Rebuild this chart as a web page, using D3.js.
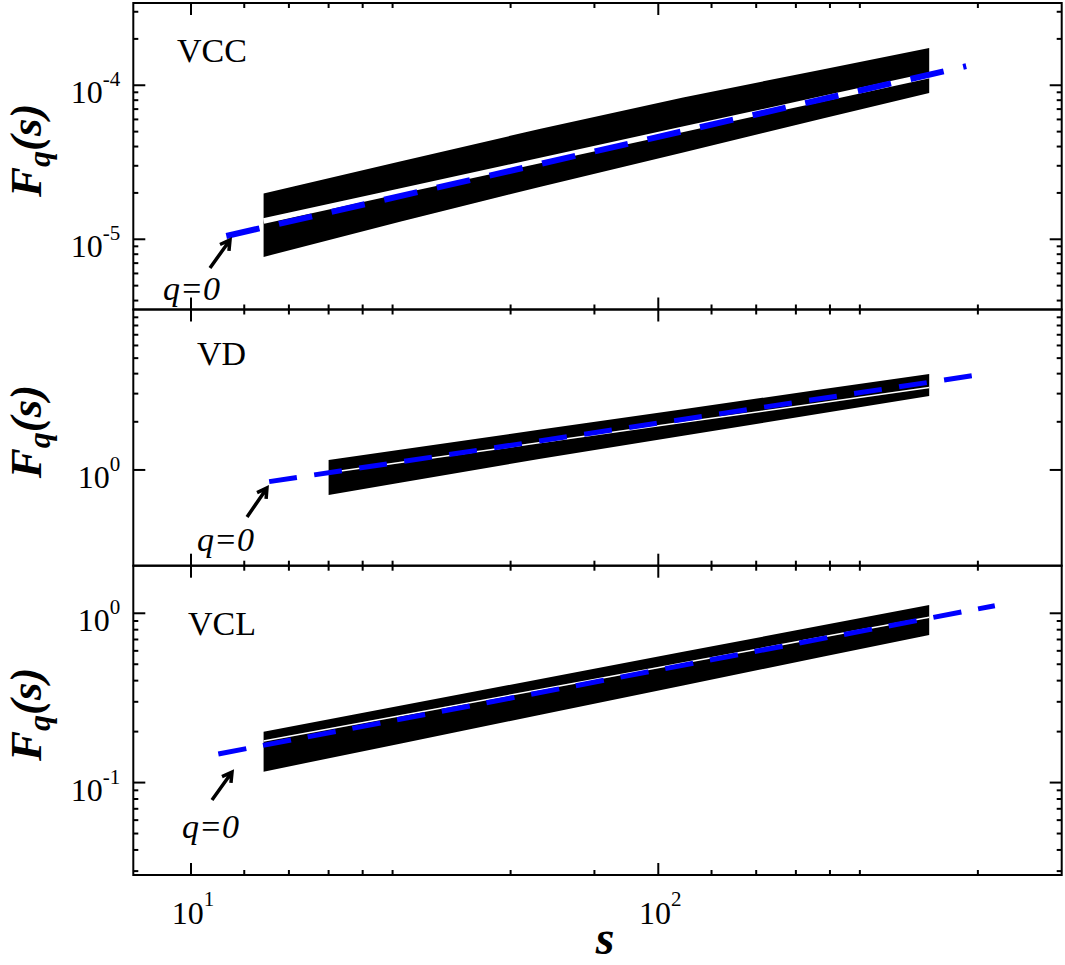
<!DOCTYPE html>
<html>
<head>
<meta charset="utf-8">
<script src="https://cdn.jsdelivr.net/npm/d3@7"></script>
<style>
    body { margin: 0; background: #fff; }
    svg { display: block; font-family: "Liberation Serif", "Times New Roman", serif; }
</style>
</head>
<body>
<div class="charts-div"></div>
<script>
// shared x axis (s)
const xDomain = [7.525, 730];
const xMajorTicks = [10, 100];
const xMajorExp = ["1", "2"];
const xMinorTicks = [13, 16.2, 19.7, 23.3, 27, 48.3, 73, 130, 162, 197, 233, 270, 483];

// VCC panel
const vccS = [14.3, 28, 56, 113, 226, 380];
const vccUpper = [1.983e-5, 3.195e-5, 5.22e-5, 8.33e-5, 1.272e-4, 1.747e-4];
const vccLower = [7.68e-6, 1.301e-5, 2.196e-5, 3.665e-5, 6.1e-5, 8.91e-5];
const vccCenter = [1.315e-5, 2.053e-5, 3.253e-5, 5.18e-5, 8.21e-5, 1.158e-4];
const vccFitS = [11.9, 456];
const vccFitF = [1.05e-5, 1.33e-4];
const vccYDomain = [3.5e-6, 3.42e-4];
const vccMajor = [1e-5, 1e-4];
const vccMajorExp = ["-5", "-4"];
const vccMinor = [4e-6, 5e-6, 6e-6, 7e-6, 8e-6, 9e-6,
    2e-5, 3e-5, 4e-5, 5e-5, 6e-5, 7e-5, 8e-5, 9e-5, 2e-4, 3e-4];

// VD panel
const vdS = [19.7, 28, 56, 113, 226, 380];
const vdUpper = [1.155, 1.337, 1.788, 2.399, 3.203, 3.981];
const vdLower = [0.698, 0.833, 1.175, 1.636, 2.271, 2.901];
const vdCenter = [0.962, 1.112, 1.483, 1.984, 2.642, 3.279];
const vdFitS = [14.7, 481];
const vdFitF = [0.845, 3.92];
const vdYDomain = [0.252, 10.07];
const vdMajor = [1];
const vdMajorExp = ["0"];
const vdMinor = [2, 3, 4, 5, 6, 7, 8, 9];

// VCL panel
const vclS = [14.3, 28, 56, 113, 226, 380];
const vclUpper = [0.1999, 0.2846, 0.4091, 0.5916, 0.8518, 1.119];
const vclLower = [0.116, 0.1697, 0.2515, 0.3747, 0.5549, 0.7445];
const vclCenter = [0.1761, 0.2484, 0.3548, 0.5079, 0.7256, 0.9471];
const vclFitS = [11.44, 525];
const vclFitF = [0.1476, 1.109];
const vclYDomain = [0.02845, 1.91];
const vclMajor = [0.1, 1];
const vclMajorExp = ["-1", "0"];
const vclMinor = [0.03, 0.04, 0.05, 0.06, 0.07, 0.08, 0.09,
    0.2, 0.3, 0.4, 0.5, 0.6, 0.7, 0.8, 0.9];

// annotations in data coords: [s, F]
const vccArrow = [[10.98, 6.51e-6], [12.12, 9.9e-6]];
const vdArrow = [[13.18, 0.508], [14.54, 0.772]];
const vclArrow = [[11.09, 0.0789], [12.24, 0.1155]];
const vccQText = [8.71, 4.04e-6];
const vdQText = [10.3, 0.312];
const vclQText = [9.57, 0.0471];
const vccNamePos = [9.33, 1.42e-4];
const vdNamePos = [10.3, 4.53];
const vclNamePos = [9.85, 0.7445];

const chartsConfig = {
    width: 1065,
    height: 965,
    left: 133.3,
    right: 1061.7,
    panelTops: [3, 309.5, 565.7],
    panelBottoms: [309.5, 565.7, 875],
    majorLen: 12,
    minorLen: 5
};

const panels = [
    { name: "VCC", s: vccS, upper: vccUpper, lower: vccLower, center: vccCenter, fitS: vccFitS, fitF: vccFitF,
      yDomain: vccYDomain, major: vccMajor, majorExp: vccMajorExp, minor: vccMinor,
      arrow: vccArrow, qText: vccQText, namePos: vccNamePos, gap: 5.5, dash: "34,20", fitWidth: 6 },
    { name: "VD", s: vdS, upper: vdUpper, lower: vdLower, center: vdCenter, fitS: vdFitS, fitF: vdFitF,
      yDomain: vdYDomain, major: vdMajor, majorExp: vdMajorExp, minor: vdMinor,
      arrow: vdArrow, qText: vdQText, namePos: vdNamePos, gap: 1.5, dash: "28,17.5", fitWidth: 5 },
    { name: "VCL", s: vclS, upper: vclUpper, lower: vclLower, center: vclCenter, fitS: vclFitS, fitF: vclFitF,
      yDomain: vclYDomain, major: vclMajor, majorExp: vclMajorExp, minor: vclMinor,
      arrow: vclArrow, qText: vclQText, namePos: vclNamePos, gap: 1.5, dash: "28.5,17", fitWidth: 5 }
];

const cfg = chartsConfig;
const svg = d3.select(".charts-div").append("svg")
    .attr("width", cfg.width)
    .attr("height", cfg.height);

const x = d3.scaleLog().domain(xDomain).range([cfg.left, cfg.right]);

const drawArrow = (g, p0, p1) => {
    const ang = Math.atan2(p1[1] - p0[1], p1[0] - p0[0]);
    const len = 11, spread = Math.PI / 6;
    const a1 = [p1[0] - len * Math.cos(ang - spread), p1[1] - len * Math.sin(ang - spread)];
    const a2 = [p1[0] - len * Math.cos(ang + spread), p1[1] - len * Math.sin(ang + spread)];
    g.append("path")
        .attr("d", `M${p0[0]},${p0[1]}L${p1[0]},${p1[1]}M${a1[0]},${a1[1]}L${p1[0]},${p1[1]}L${a2[0]},${a2[1]}`)
        .attr("fill", "none")
        .attr("stroke", "#000")
        .attr("stroke-width", 3.5)
        .attr("stroke-linejoin", "miter");
};

panels.forEach((p, i) => {
    const top = cfg.panelTops[i];
    const bottom = cfg.panelBottoms[i];
    const y = d3.scaleLog().domain(p.yDomain).range([bottom, top]);
    const g = svg.append("g").attr("class", "panel");

    const rows = p.s.map((s, k) => ({ s, lo: p.lower[k], hi: p.upper[k], mid: p.center[k] }));

    // band of F_q(s) curves
    g.append("path")
        .datum(rows)
        .attr("d", d3.area().x((d) => x(d.s)).y0((d) => y(d.lo)).y1((d) => y(d.hi)))
        .attr("fill", "#000");

    // q=0 curve (white)
    g.append("path")
        .datum(rows)
        .attr("d", d3.line().x((d) => x(d.s)).y((d) => y(d.mid)))
        .attr("fill", "none")
        .attr("stroke", "#fff")
        .attr("stroke-width", p.gap);

    // power-law fit, blue dashed
    g.append("path")
        .datum(p.fitS.map((s, k) => [s, p.fitF[k]]))
        .attr("d", d3.line().x((d) => x(d[0])).y((d) => y(d[1])))
        .attr("fill", "none")
        .attr("stroke", "#0000ff")
        .attr("stroke-width", p.fitWidth)
        .attr("stroke-dasharray", p.dash);

    // arrow + q=0 label
    drawArrow(g, [x(p.arrow[0][0]), y(p.arrow[0][1])], [x(p.arrow[1][0]), y(p.arrow[1][1])]);
    g.append("text")
        .attr("x", x(p.qText[0]))
        .attr("y", y(p.qText[1]))
        .attr("font-size", 34)
        .attr("font-style", "italic")
        .text("q=0");

    g.append("text")
        .attr("x", x(p.namePos[0]))
        .attr("y", y(p.namePos[1]))
        .attr("font-size", 34)
        .text(p.name);

    // frame
    g.append("rect")
        .attr("x", cfg.left)
        .attr("y", top)
        .attr("width", cfg.right - cfg.left)
        .attr("height", bottom - top)
        .attr("fill", "none")
        .attr("stroke", "#000")
        .attr("stroke-width", 2);

    // y ticks, both sides, pointing inward
    const yTicks = p.major.map((v) => ({ v, len: cfg.majorLen }))
        .concat(p.minor.map((v) => ({ v, len: cfg.minorLen })));
    yTicks.forEach((t) => {
        const yy = y(t.v);
        g.append("line").attr("x1", cfg.left).attr("x2", cfg.left + t.len).attr("y1", yy).attr("y2", yy);
        g.append("line").attr("x1", cfg.right).attr("x2", cfg.right - t.len).attr("y1", yy).attr("y2", yy);
    });

    // x ticks, top and bottom
    const xTicks = xMajorTicks.map((v) => ({ v, len: cfg.majorLen }))
        .concat(xMinorTicks.map((v) => ({ v, len: cfg.minorLen })));
    xTicks.forEach((t) => {
        const xx = x(t.v);
        g.append("line").attr("x1", xx).attr("x2", xx).attr("y1", top).attr("y2", top + t.len);
        g.append("line").attr("x1", xx).attr("x2", xx).attr("y1", bottom).attr("y2", bottom - t.len);
    });
    g.selectAll("line").attr("stroke", "#000").attr("stroke-width", 2);

    // y tick labels
    p.major.forEach((v, k) => {
        const t = g.append("text")
            .attr("x", cfg.left - 13)
            .attr("y", y(v) + 18)
            .attr("text-anchor", "end")
            .attr("font-size", 32);
        t.append("tspan").text("10");
        t.append("tspan").attr("font-size", 21).attr("dy", -17).text(p.majorExp[k]);
    });

    // y axis title F_q(s)
    const cy = (top + bottom) / 2 - 6;
    const title = g.append("text")
        .attr("transform", `translate(41,${cy}) rotate(-90)`)
        .attr("text-anchor", "middle")
        .attr("font-size", 45)
        .attr("font-weight", "bold")
        .attr("font-style", "italic");
    title.append("tspan").text("F");
    title.append("tspan").attr("font-size", 32).attr("dy", 9).text("q");
    title.append("tspan").attr("dy", -9).text("(s)");
});

// x tick labels
const lastBottom = cfg.panelBottoms[cfg.panelBottoms.length - 1];
xMajorTicks.forEach((v, k) => {
    const t = svg.append("text")
        .attr("x", x(v) + 2)
        .attr("y", lastBottom + 49)
        .attr("text-anchor", "middle")
        .attr("font-size", 32);
    t.append("tspan").text("10");
    t.append("tspan").attr("font-size", 21).attr("dy", -18).text(xMajorExp[k]);
});

// x axis title
svg.append("text")
    .attr("x", 605)
    .attr("y", 954)
    .attr("text-anchor", "middle")
    .attr("font-size", 48)
    .attr("font-weight", "bold")
    .attr("font-style", "italic")
    .text("s");
</script>
</body>
</html>
